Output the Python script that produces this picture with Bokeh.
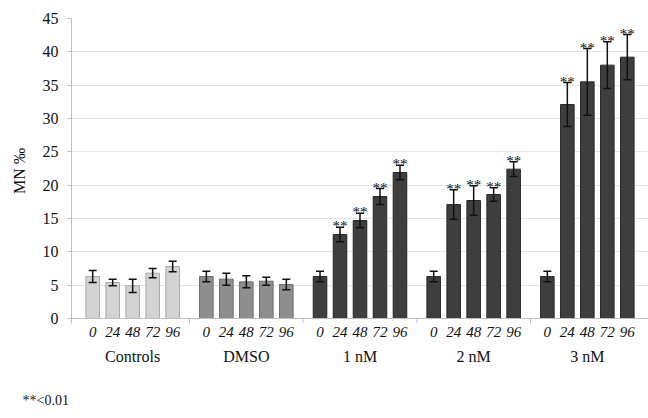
from bokeh.plotting import figure
from bokeh.models import (ColumnDataSource, FactorRange, Range1d, Whisker, TeeHead,
                          Title, FixedTicker, Span, CategoricalAxis)
from bokeh.core.properties import value
from bokeh.embed import file_html
from bokeh.resources import INLINE

groups = ["Controls", "DMSO", "1 nM", "2 nM", "3 nM"]
times = ["0", "24", "48", "72", "96"]

controls_mean = [6.3, 5.4, 4.9, 6.8, 7.8]
controls_err = [0.9, 0.5, 1.0, 0.7, 0.8]
dmso_mean = [6.3, 5.9, 5.5, 5.6, 5.1]
dmso_err = [0.8, 0.9, 0.9, 0.6, 0.8]
nm1_mean = [6.3, 12.6, 14.7, 18.3, 21.9]
nm1_err = [0.8, 1.1, 1.1, 1.2, 1.1]
nm2_mean = [6.3, 17.1, 17.7, 18.6, 22.4]
nm2_err = [0.8, 2.2, 2.2, 1.0, 1.1]
nm3_mean = [6.3, 32.1, 35.5, 38.0, 39.2]
nm3_err = [0.8, 3.3, 5.0, 3.5, 3.4]

# significance marks ("**" = p<0.01)
nm1_sig = [False, True, True, True, True]
nm2_sig = [False, True, True, True, True]
nm3_sig = [False, True, True, True, True]

group_fill = {"Controls": "#d3d3d3", "DMSO": "#8e8e8e", "1 nM": "#3e3e3e",
              "2 nM": "#3e3e3e", "3 nM": "#3e3e3e"}
group_line = {"Controls": "#a9a9a9", "DMSO": "#6e6e6e", "1 nM": "#2a2a2a",
              "2 nM": "#2a2a2a", "3 nM": "#2a2a2a"}

means = [controls_mean, dmso_mean, nm1_mean, nm2_mean, nm3_mean]
errs = [controls_err, dmso_err, nm1_err, nm2_err, nm3_err]
sigs = [[False] * 5, [False] * 5, nm1_sig, nm2_sig, nm3_sig]

GROUP_PAD = 0.686
END_PAD = 0.56

x, top, lower, upper, fill, line = [], [], [], [], [], []
sx, sy = [], []
for g, m, e, s in zip(groups, means, errs, sigs):
    for t, mv, ev, sv in zip(times, m, e, s):
        x.append((g, t))
        top.append(mv)
        lower.append(mv - ev)
        upper.append(mv + ev)
        fill.append(group_fill[g])
        line.append(group_line[g])
        if sv:
            sx.append((g, t))
            sy.append(mv + ev)

src = ColumnDataSource(dict(x=x, top=top, lower=lower, upper=upper, fill=fill, line=line))
star_src = ColumnDataSource(dict(x=sx, y=sy, t=["**"] * len(sx)))

# small tick marks between groups, below the x axis line
sep_x = [(g, times[-1], 0.5 + GROUP_PAD / 2) for g in groups[:-1]]
sep_src = ColumnDataSource(dict(x=sep_x))

SERIF = "Liberation Serif"
n = len(times)

xr = FactorRange(*x, factor_padding=0.0, group_padding=GROUP_PAD,
                 range_padding=END_PAD, range_padding_units="absolute")
# flat range of group names aligned with the nested one (for the group label row)
span_nested = len(x) + (len(groups) - 1) * GROUP_PAD + END_PAD
span_flat_core = len(groups) + (len(groups) - 1) * GROUP_PAD / n
grp_range = FactorRange(*groups, factor_padding=GROUP_PAD / n,
                        range_padding=span_nested / n - span_flat_core,
                        range_padding_units="absolute")

p = figure(x_range=xr, y_range=Range1d(-0.75, 45), width=648, height=418,
           output_backend="svg", toolbar_location=None,
           min_border_left=71, min_border_right=0, min_border_top=18,
           min_border_bottom=95)
p.extra_x_ranges = {"grp": grp_range}
p.outline_line_color = None
p.background_fill_color = "white"

p.vbar(x="x", top="top", width=0.68, source=src, fill_color="fill",
       line_color="line", line_width=1)

p.add_layout(Span(location=0, dimension="width", line_color="#bfbfbf", line_width=1))
p.segment(x0="x", y0=0, x1="x", y1=-0.75, source=sep_src, line_color="#bfbfbf",
          line_width=1)

w = Whisker(base="x", lower="lower", upper="upper", source=src,
            line_color="#111111", line_width=1.5, level="overlay",
            upper_head=TeeHead(size=8, line_color="#111111", line_width=1.5),
            lower_head=TeeHead(size=8, line_color="#111111", line_width=1.5))
p.add_layout(w)

p.text(x="x", y="y", text="t", source=star_src, text_align="center",
       text_baseline="alphabetic", y_offset=-1, text_font=value(SERIF),
       text_font_size="15px", text_color="#111111")

# y axis
p.yaxis.ticker = FixedTicker(ticks=list(range(0, 46, 5)))
p.yaxis.axis_line_color = "#bfbfbf"
p.yaxis.major_tick_line_color = "#bfbfbf"
p.yaxis.major_tick_in = 0
p.yaxis.major_tick_out = 4
p.yaxis.minor_tick_line_color = None
p.yaxis.major_label_text_font = SERIF
p.yaxis.major_label_text_font_size = "16px"
p.yaxis.major_label_text_color = "#111111"
p.yaxis.major_label_standoff = 9
p.yaxis.axis_label = "MN ‰"
p.yaxis.axis_label_text_font = SERIF
p.yaxis.axis_label_text_font_size = "16px"
p.yaxis.axis_label_text_font_style = "normal"
p.yaxis.axis_label_text_color = "#111111"
p.yaxis.axis_label_standoff = 12

# x axis (time labels only)
xa = p.xaxis[0]
xa.axis_line_color = None
xa.major_tick_line_color = None
xa.minor_tick_line_color = None
xa.major_label_text_font = SERIF
xa.major_label_text_font_style = "italic"
xa.major_label_text_font_size = "15px"
xa.major_label_text_color = "#111111"
xa.major_label_standoff = -3
xa.group_text_font_size = "1px"
xa.group_text_alpha = 0
xa.separator_line_color = None

# second row: group names
ga = CategoricalAxis(x_range_name="grp")
ga.axis_line_color = None
ga.major_tick_line_color = None
ga.minor_tick_line_color = None
ga.major_label_text_font = SERIF
ga.major_label_text_font_size = "16px"
ga.major_label_text_color = "#111111"
ga.major_label_standoff = 2
p.add_layout(ga, "below")

p.xgrid.grid_line_color = None
p.ygrid.grid_line_color = "#c8c8c8"
p.ygrid.grid_line_dash = "1 1"
p.ygrid.grid_line_width = 1

p.add_layout(Title(text=" ", text_font_size="6px"), "below")
foot = Title(text="**<0.01", align="left", offset=-49,
             text_font=SERIF, text_font_size="14px", text_font_style="normal",
             text_color="#111111")
p.add_layout(foot, "below")

open("out.html", "w").write(file_html(p, INLINE))
